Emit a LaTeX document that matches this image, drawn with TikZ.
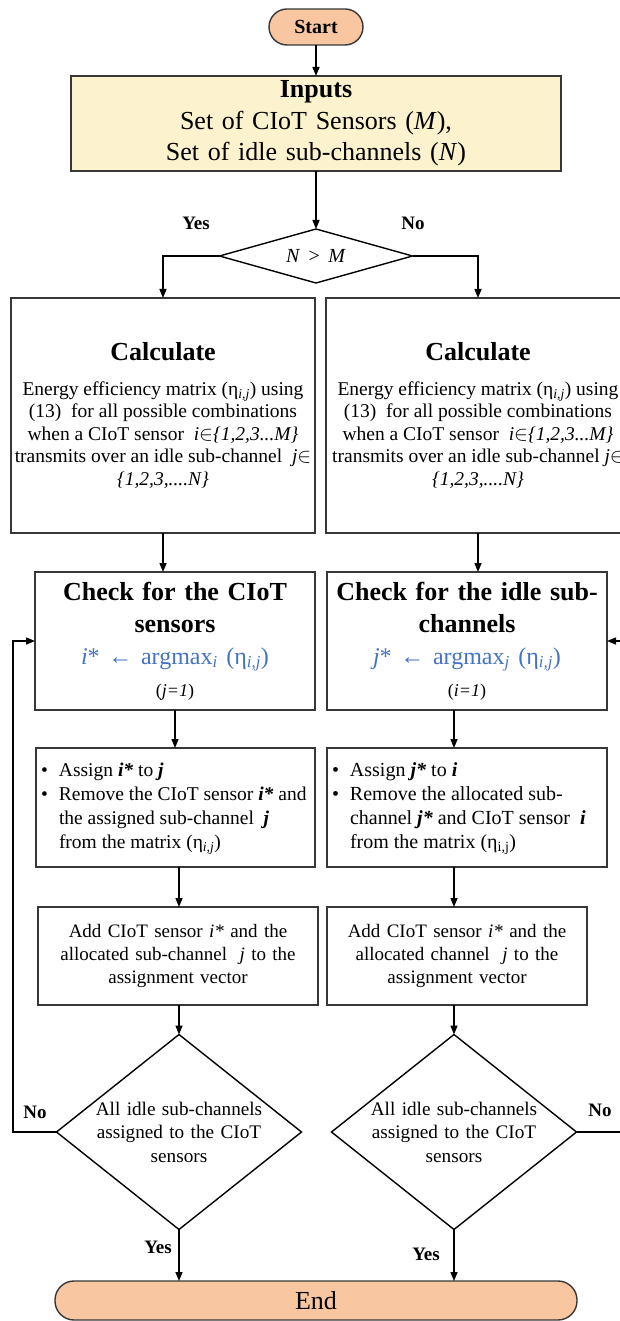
\documentclass[tikz,border=0pt]{standalone}
\usepackage{fontspec}
\setmainfont{Liberation Serif}
\usetikzlibrary{arrows.meta,shapes.geometric,calc}
\definecolor{termfill}{RGB}{248,198,160}
\definecolor{inputfill}{RGB}{253,242,206}
\definecolor{formblue}{RGB}{68,114,196}
\definecolor{boxline}{RGB}{55,55,55}
\newcommand{\fsz}[2]{\fontsize{#1}{#2}\selectfont}
\begin{document}
\begin{tikzpicture}[x=1pt,y=-1pt,
 every node/.style={inner sep=0pt,outer sep=0pt},
 box/.style={draw=boxline,line width=1.4pt,rectangle},
 term/.style={draw=boxline,line width=1.4pt,fill=termfill,rectangle},
 dia/.style={draw=black,line width=1.4pt,diamond},
 arr/.style={draw=black,line width=1.4pt,-{Triangle[length=9pt,width=7pt]}},
 lbl/.style={font=\fsz{19}{22}\bfseries}]

\useasboundingbox (0,0) rectangle (620,1321);
\clip (0,0) rectangle (620,1321);

% terminals and inputs
\node[term,rounded corners=18pt,minimum width=94pt,minimum height=36pt,font=\fsz{20}{24}\bfseries] (start) at (316,27) {Start};
\node[box,fill=inputfill,minimum width=490pt,minimum height=95pt,text width=490pt,align=center,font=\fsz{26}{31.5}] (inputs) at (316,123.5) {\textbf{Inputs}\\Set of CIoT Sensors (\textit{M}),\\Set of idle sub-channels (\textit{N})};

% first decision
\node[dia,minimum width=193pt,minimum height=54pt] (dec) at (316,256) {};
\node[font=\fsz{20}{24}] (dect) at (dec) {\textit{N} \,>\, \textit{M}};
\node[lbl] (yes0) at (196,223) {Yes};
\node[lbl] (no0) at (413,223) {No};

% calculate boxes
\node[box,minimum width=304pt,minimum height=235pt,align=center,font=\fsz{19.5}{22.5}] (calcL) at (163,415.5) {{\fsz{26}{31}\bfseries Calculate}\\[12pt]Energy efficiency matrix (η\textsubscript{\textit{i,j}}) using\\(13)~ for all possible combinations\\when a CIoT sensor ~\textit{i}$\in$\textit{\{1,2,3...M\}}\\transmits over an idle sub-channel ~\textit{j}$\in$\\\textit{\{1,2,3,....N\}}};
\node[box,minimum width=304pt,minimum height=235pt,align=center,font=\fsz{19.5}{22.5}] (calcR) at (478,415.5) {{\fsz{26}{31}\bfseries Calculate}\\[12pt]Energy efficiency matrix (η\textsubscript{\textit{i,j}}) using\\(13)~ for all possible combinations\\when a CIoT sensor ~\textit{i}$\in$\textit{\{1,2,3...M\}}\\transmits over an idle sub-channel \textit{j}$\in$\\\textit{\{1,2,3,....N\}}};

% check boxes
\node[box,minimum width=280pt,minimum height=138pt,text width=280pt,align=center,font=\fsz{26}{32}] (chkL) at (175,641) {{\bfseries Check for the CIoT\\sensors}\\{\color{formblue}\fsz{24}{32}\textit{i}* ← argmax\textsubscript{\textit{i}} (η\textsubscript{\textit{i,j}})}\\{\fsz{18}{32}(\textit{j=1})}};
\node[box,minimum width=280pt,minimum height=138pt,text width=280pt,align=center,font=\fsz{26}{32}] (chkR) at (467,641) {{\bfseries Check for the idle sub-\\channels}\\{\color{formblue}\fsz{24}{32}\textit{j}* ← argmax\textsubscript{\textit{j}} (η\textsubscript{\textit{i,j}})}\\{\fsz{18}{32}(\textit{i=1})}};

% assign boxes
\node[box,minimum width=279pt,minimum height=119pt] (asgL) at (175.5,807.5) {};
\node[anchor=west,font=\fsz{19.5}{24}] (asgLt) at ([xshift=5pt]asgL.west) {\begin{tabular}{@{}l@{}l@{}}
\makebox[18pt][l]{\textbullet} & Assign \textbf{\textit{i*}} to \textbf{\textit{j}}\\
\makebox[18pt][l]{\textbullet} & Remove the CIoT sensor \textbf{\textit{i*}} and\\
 & the assigned sub-channel ~\textbf{\textit{j}}\\
 & from the matrix (η\textsubscript{\textit{i,j}})
\end{tabular}};
\node[box,minimum width=280pt,minimum height=119pt] (asgR) at (467,807.5) {};
\node[anchor=west,font=\fsz{20}{24}] (asgRt) at ([xshift=5pt]asgR.west) {\begin{tabular}{@{}l@{}l@{}}
\makebox[18pt][l]{\textbullet} & Assign \textbf{\textit{j*}} to \textbf{\textit{i}}\\
\makebox[18pt][l]{\textbullet} & Remove the allocated sub-\\
 & channel \textbf{\textit{j*}} and CIoT sensor ~\textbf{\textit{i}}\\
 & from the matrix (η\textsubscript{i,j})
\end{tabular}};

% add boxes
\node[box,minimum width=280pt,minimum height=98pt,text width=280pt,align=center,font=\fsz{19}{23}] (addL) at (178,956) {Add CIoT sensor \textit{i*} and the\\allocated sub-channel ~\textit{j} to the\\assignment vector};
\node[box,minimum width=260pt,minimum height=98pt,text width=260pt,align=center,font=\fsz{19}{23}] (addR) at (457,956) {Add CIoT sensor \textit{i*} and the\\allocated channel ~\textit{j} to the\\assignment vector};

% final decisions
\node[dia,minimum width=245pt,minimum height=195pt] (dL) at (179,1132) {};
\node[font=\fsz{19.2}{23.5},text width=220pt,align=center] (dLt) at (dL) {All idle sub-channels\\assigned to the CIoT\\sensors};
\node[dia,minimum width=245pt,minimum height=195pt] (dR) at (454,1132) {};
\node[font=\fsz{19.2}{23.5},text width=220pt,align=center] (dRt) at (dR) {All idle sub-channels\\assigned to the CIoT\\sensors};

\node[lbl] (noL) at (35,1112) {No};
\node[lbl] (noR) at (600,1110) {No};
\node[lbl] (yesL) at (158,1247) {Yes};
\node[lbl] (yesR) at (426,1254) {Yes};

% end
\node[term,rounded corners=19pt,minimum width=522pt,minimum height=39pt,font=\fsz{26}{30}] (end) at (316,1300.5) {End};

% connectors
\coordinate (fbL) at (13,1132);
\coordinate (fbR) at (640,1132);
\draw[arr] (start) -- (inputs);
\draw[arr] (inputs) -- (dec);
\draw[arr] (dec.west) -| (calcL.north);
\draw[arr] (dec.east) -| (calcR.north);
\draw[arr] (calcL.south) -- (calcL.south |- chkL.north);
\draw[arr] (calcR.south) -- (calcR.south |- chkR.north);
\draw[arr] (chkL.south) -- (chkL.south |- asgL.north);
\draw[arr] (chkR.south -| dR.north) -- (asgR.north -| dR.north);
\draw[arr] (asgL.south -| dL.north) -- (addL.north -| dL.north);
\draw[arr] (asgR.south -| dR.north) -- (addR.north -| dR.north);
\draw[arr] (addL.south -| dL.north) -- (dL.north);
\draw[arr] (addR.south -| dR.north) -- (dR.north);
\draw[arr] (dL.south) -- (dL.south |- end.north);
\draw[arr] (dR.south) -- (dR.south |- end.north);
\draw[arr] (dL.west) -- (fbL) |- (chkL.west);
\draw[arr] (dR.east) -- (fbR) |- (chkR.east);
\end{tikzpicture}
\end{document}
